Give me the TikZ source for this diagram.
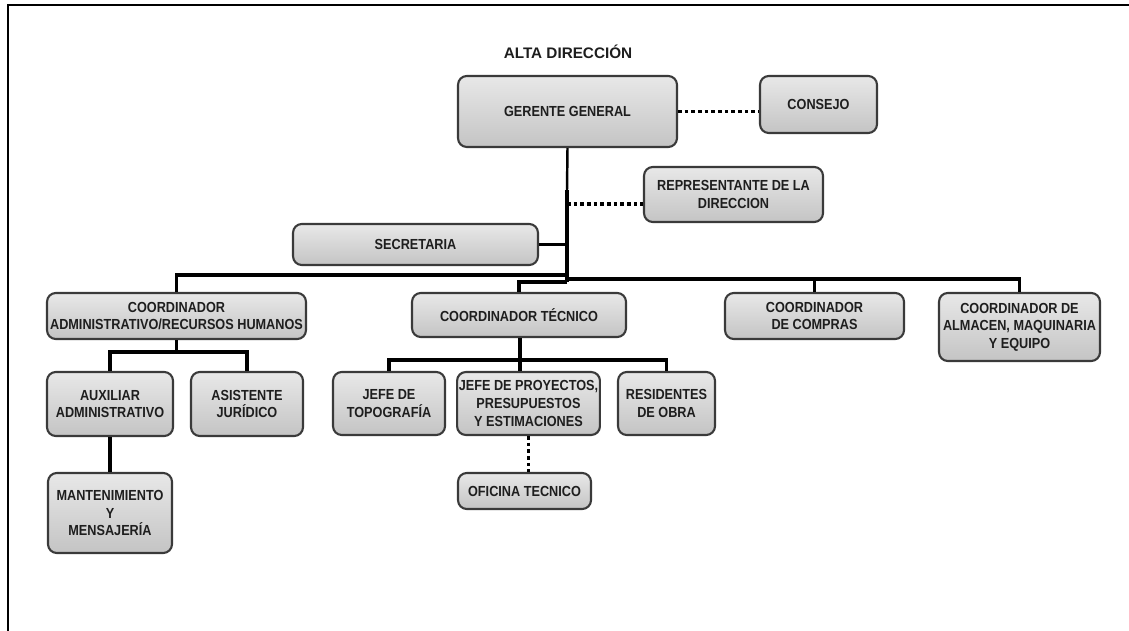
\documentclass[tikz,border=0pt]{standalone}
\usepackage{fontspec}
\setmainfont{Liberation Sans}
\newfontfamily\boxfont[FakeStretch=0.87]{Liberation Sans}
\usetikzlibrary{positioning,calc}
\definecolor{txt}{HTML}{1E1E1E}
\definecolor{edge}{HTML}{3A3A3A}
\definecolor{marblelt}{HTML}{E8E8E8}
\definecolor{marbledk}{HTML}{C4C4C4}

\begin{document}
\begin{tikzpicture}[
  x=0.02cm, y=-0.02cm,
  unit/.style={rectangle, rounded corners=5pt, draw=edge, line width=1.2pt,
    top color=marblelt, bottom color=marbledk, text=txt, align=center,
    inner sep=1pt, font=\boxfont\bfseries\fontsize{8.3}{10}\selectfont},
  conn/.style={line width=1.8pt, color=black},
  spine/.style={line width=2.6pt, color=black},
  dotl/.style={line width=2pt, color=black, dash pattern=on 2pt off 1.8pt},
  frame/.style={line width=1.3pt, color=black},
]
\useasboundingbox (0,0) rectangle (1129,631);
\draw[frame] (8,631) -- (8,5) -- (1129,5);

\node[font=\bfseries\fontsize{8.7}{10}\selectfont, text=txt] (alta) at (568,52) {ALTA DIRECCIÓN};

% top level
\node[unit, minimum width=4.38cm, minimum height=1.42cm] (gerente) at (567.5,111.5) {GERENTE GENERAL};
\node[unit, minimum width=2.34cm, minimum height=1.14cm] (consejo) at (818.5,104.5) {CONSEJO};
\node[unit, minimum width=3.58cm, minimum height=1.10cm] (repr) at (733.5,194.5) {REPRESENTANTE DE LA\\DIRECCION};
\node[unit, minimum width=4.90cm, minimum height=0.82cm] (secretaria) at (415.5,244.5) {SECRETARIA};

% coordinators
\node[unit, minimum width=5.18cm, minimum height=0.92cm] (coordadm) at (176.5,316) {COORDINADOR\\ADMINISTRATIVO/RECURSOS HUMANOS};
\node[unit, minimum width=4.28cm, minimum height=0.88cm] (coordtec) at (519,315) {COORDINADOR TÉCNICO};
\node[unit, minimum width=3.58cm, minimum height=0.92cm] (coordcom) at (814.5,316) {COORDINADOR\\DE COMPRAS};
\node[unit, minimum width=3.22cm, minimum height=1.36cm] (coordalm) at (1019.5,327) {COORDINADOR DE\\ALMACEN, MAQUINARIA\\Y EQUIPO};

% third level
\node[unit, minimum width=2.52cm, minimum height=1.28cm] (auxiliar) at (110,404) {AUXILIAR\\ADMINISTRATIVO};
\node[unit, minimum width=2.24cm, minimum height=1.28cm] (asistente) at (247,404) {ASISTENTE\\JURÍDICO};
\node[unit, minimum width=2.48cm, minimum height=1.60cm] (manten) at (110,513) {MANTENIMIENTO\\Y\\MENSAJERÍA};
\node[unit, minimum width=2.24cm, minimum height=1.26cm] (jefetopo) at (389,403.5) {JEFE DE\\TOPOGRAFÍA};
\node[unit, minimum width=2.82cm, minimum height=1.26cm] (jefeproy) at (528.5,403.5) {JEFE DE PROYECTOS,\\PRESUPUESTOS\\Y ESTIMACIONES};
\node[unit, minimum width=1.94cm, minimum height=1.26cm] (residentes) at (666.5,403.5) {RESIDENTES\\DE OBRA};
\node[unit, minimum width=2.66cm, minimum height=0.72cm] (oficina) at (524.5,491) {OFICINA TECNICO};

% junctions
\coordinate (sp1) at (567,190);
\coordinate (sp2) at (567,282);
\coordinate (reprj) at (567,204);
\coordinate (busL) at (567,275);
\coordinate (busR) at (567,279);
\coordinate (admj) at (176.5,352);
\coordinate (tecj) at (520,360);

% lines
\draw[dotl] (gerente.east) -- (gerente.east -| consejo.west);
\draw[conn, line width=1.4pt] (gerente.south) -- (sp1);
\draw[spine] (sp1) -- (sp2);
\draw[dotl] (reprj) -- (reprj -| repr.west);
\draw[conn] (secretaria.east) -- (secretaria.east -| sp1);
\draw[conn] (busL) -| (coordadm.north);
\draw[conn] (sp2) -| (coordtec.north);
\draw[conn] (busR) -| (coordcom.north);
\draw[conn] (busR) -| (coordalm.north);

\draw[conn] (coordadm.south) -- (admj);
\draw[conn] (auxiliar.north) |- (admj) -| (asistente.north);
\draw[conn] (auxiliar.south) -- (manten.north);

\draw[conn] (coordtec.south -| tecj) -- (tecj) -- (tecj |- jefeproy.north);
\draw[conn] (jefetopo.north) |- (tecj) -| (residentes.north);
\draw[dotl] (jefeproy.south) -- (jefeproy.south |- oficina.north);

\end{tikzpicture}
\end{document}
